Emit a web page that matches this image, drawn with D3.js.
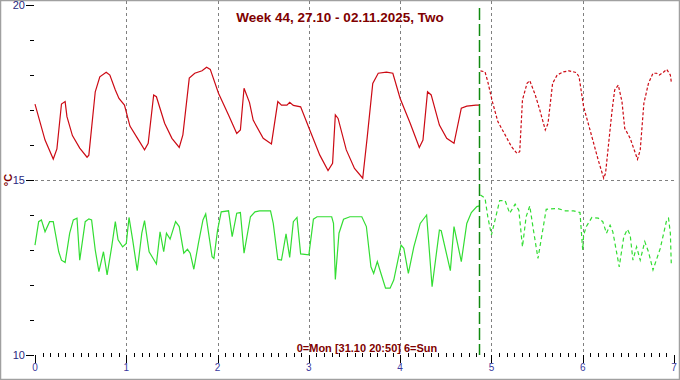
<!DOCTYPE html>
<html>
<head>
<meta charset="utf-8">
<script src="https://cdn.jsdelivr.net/npm/d3@7/dist/d3.min.js"></script>
<style>
  body { margin: 0; background: #fff; }
  svg { display: block; font-family: "Liberation Sans", Arial, sans-serif; }
</style>
</head>
<body>
<div id="chart"></div>
<script>
// weekly temperature, day 0 = Mon ... 7 = end of Sun
const titleText = "Week 44, 27.10 - 02.11.2025, Two";
const footText = "0=Mon [31.10 20:50] 6=Sun";
const unitText = "°C";
const nowDay = 4.868;
const xTicks = [0, 1, 2, 3, 4, 5, 6, 7];
const yLabels = [10, 15, 20];

// red series, measured (solid)
const redDays = [0.00, 0.11, 0.20, 0.24, 0.29, 0.33, 0.35, 0.41, 0.49, 0.57, 0.59, 0.66, 0.71, 0.78, 0.82, 0.88, 0.92, 0.98,
  1.04, 1.13, 1.20, 1.24, 1.30, 1.33, 1.42, 1.50, 1.58, 1.62, 1.69, 1.75, 1.83, 1.88, 1.92,
  2.01, 2.12, 2.21, 2.25, 2.29, 2.35, 2.39, 2.50, 2.59, 2.66, 2.70, 2.76, 2.79, 2.83, 2.91,
  3.01, 3.12, 3.21, 3.26, 3.29, 3.32, 3.41, 3.50, 3.59, 3.64, 3.70, 3.76, 3.85, 3.92,
  4.00, 4.11, 4.21, 4.25, 4.30, 4.34, 4.43, 4.51, 4.59, 4.67, 4.73, 4.83, 4.87];
const redTemps = [17.17, 16.14, 15.60, 15.89, 17.17, 17.24, 16.81, 16.27, 15.91, 15.65, 15.71, 17.52, 17.95, 18.08, 18.00, 17.57, 17.33, 17.14,
  16.54, 16.16, 15.86, 16.05, 17.43, 17.38, 16.62, 16.19, 15.93, 16.29, 17.91, 18.05, 18.12, 18.22, 18.16,
  17.48, 16.86, 16.33, 16.43, 17.62, 17.21, 16.71, 16.19, 16.03, 17.24, 17.14, 17.14, 17.22, 17.13, 17.09,
  16.43, 15.71, 15.27, 15.48, 16.86, 16.76, 15.86, 15.33, 15.05, 16.24, 17.76, 18.05, 18.08, 18.05,
  17.33, 16.62, 15.93, 16.14, 17.52, 17.43, 16.57, 16.19, 16.05, 17.05, 17.11, 17.14, 17.14];

// red series, rest of week (dashed)
const redRestDays = [4.88, 4.93, 4.96, 5.01, 5.07, 5.15, 5.22, 5.28, 5.31, 5.34, 5.39, 5.42, 5.48, 5.53, 5.59, 5.62, 5.67, 5.72, 5.79, 5.85, 5.93, 5.96,
  6.01, 6.08, 6.17, 6.23, 6.25, 6.32, 6.35, 6.39, 6.43, 6.46, 6.52, 6.60, 6.63, 6.67, 6.72, 6.77, 6.81, 6.84, 6.88, 6.92, 6.96, 6.97];
const redRestTemps = [18.12, 18.09, 17.81, 17.24, 16.67, 16.29, 15.95, 15.76, 15.81, 17.29, 17.76, 17.84, 17.43, 17.00, 16.43, 16.62, 17.76, 18.00, 18.09, 18.12, 18.07, 17.95,
  17.09, 16.43, 15.57, 15.05, 15.19, 16.95, 17.57, 17.71, 17.24, 16.48, 16.19, 15.59, 15.86, 17.19, 17.76, 18.05, 18.05, 18.00, 18.07, 18.16, 18.00, 17.81];

// green series, measured (solid)
const greenDays = [0.00, 0.04, 0.07, 0.11, 0.16, 0.20, 0.26, 0.29, 0.33, 0.38, 0.42, 0.46, 0.49, 0.55, 0.59, 0.62, 0.66, 0.70, 0.75, 0.79, 0.84, 0.88, 0.91, 0.96,
  1.00, 1.03, 1.07, 1.12, 1.17, 1.20, 1.25, 1.33, 1.37, 1.41, 1.44, 1.48, 1.54, 1.58, 1.63, 1.67, 1.70, 1.74, 1.79, 1.84, 1.87, 1.94, 1.96,
  2.00, 2.04, 2.12, 2.16, 2.21, 2.25, 2.29, 2.36, 2.41, 2.46, 2.58, 2.61, 2.66, 2.70, 2.75, 2.79, 2.83, 2.87, 2.91,
  3.00, 3.05, 3.09, 3.25, 3.27, 3.29, 3.33, 3.38, 3.45, 3.58, 3.63, 3.68, 3.71, 3.75, 3.79, 3.84, 3.89, 3.93,
  4.01, 4.04, 4.09, 4.15, 4.22, 4.29, 4.35, 4.43, 4.45, 4.55, 4.59, 4.67, 4.73, 4.78, 4.84, 4.87];
const greenTemps = [13.14, 13.81, 13.86, 13.52, 13.81, 13.81, 12.95, 12.71, 12.64, 13.48, 13.86, 13.91, 12.71, 13.81, 13.89, 13.86, 13.00, 12.38, 12.95, 12.29, 13.09, 13.81, 13.29, 13.09,
  13.19, 13.93, 13.29, 12.41, 13.48, 13.84, 12.95, 12.60, 13.52, 12.95, 13.48, 13.31, 13.81, 13.67, 12.91, 13.02, 12.91, 12.45, 13.19, 13.86, 14.03, 12.81, 12.76,
  13.57, 14.09, 14.12, 13.38, 14.05, 14.07, 12.91, 13.95, 14.09, 14.12, 14.12, 13.76, 12.73, 12.71, 13.46, 12.79, 13.81, 13.93, 12.89,
  12.86, 13.88, 13.95, 13.95, 13.76, 12.16, 13.48, 13.88, 13.95, 13.95, 13.67, 12.52, 12.33, 12.67, 12.33, 11.91, 11.91, 12.14,
  13.14, 13.05, 12.33, 13.09, 13.76, 14.00, 11.95, 13.57, 13.55, 12.41, 13.67, 12.67, 13.76, 14.07, 14.24, 14.26];

// green series, rest of week (dashed)
const greenRestDays = [4.88, 4.93, 4.96, 5.00, 5.04, 5.09, 5.15, 5.20, 5.26, 5.30, 5.34, 5.38, 5.42, 5.46, 5.51, 5.55, 5.60, 5.72, 5.81, 5.90, 5.97,
  6.00, 6.01, 6.04, 6.10, 6.17, 6.22, 6.26, 6.30, 6.33, 6.40, 6.45, 6.49, 6.52, 6.55, 6.59, 6.63, 6.68, 6.72, 6.77, 6.85, 6.92, 6.94, 6.96, 6.97];
const greenRestTemps = [14.57, 14.48, 13.95, 13.43, 13.86, 14.41, 14.41, 14.05, 14.31, 14.14, 13.09, 13.95, 14.26, 13.57, 12.76, 13.38, 14.16, 14.19, 14.12, 14.12, 14.07,
  13.00, 13.43, 13.67, 13.93, 13.91, 13.81, 13.48, 13.71, 13.52, 12.52, 13.38, 13.59, 13.43, 12.71, 13.09, 12.71, 13.24, 12.95, 12.43, 13.05, 13.86, 13.91, 13.48, 12.62];

const W = 680, H = 380;
const svg = d3.select("#chart").append("svg")
  .attr("width", W)
  .attr("height", H);

svg.append("rect")
  .attr("x", 0.5).attr("y", 0.5)
  .attr("width", W - 1).attr("height", H - 1)
  .attr("fill", "#fff")
  .attr("stroke", "#a0a0a0")
  .attr("stroke-width", 1.5);

let x = d3.scaleLinear().domain([0, 7]).range([35, 674]);
let y = d3.scaleLinear().domain([10, 20]).range([355, 5]);

// vertical grid
svg.selectAll(".vgrid")
  .data(xTicks.filter(d => d > 0 && d < 7))
  .enter().append("line")
  .attr("x1", d => Math.round(x(d)) + 0.5).attr("x2", d => Math.round(x(d)) + 0.5)
  .attr("y1", 1).attr("y2", y(10))
  .attr("stroke", "#808080")
  .attr("stroke-dasharray", "3,3");

// horizontal grid at 15
svg.append("line")
  .attr("x1", x(0)).attr("x2", x(7))
  .attr("y1", Math.round(y(15)) + 0.5).attr("y2", Math.round(y(15)) + 0.5)
  .attr("stroke", "#808080")
  .attr("stroke-dasharray", "3,3");

// y ticks
let yMinor = d3.range(10, 21, 1);
svg.selectAll(".ytick")
  .data(yMinor)
  .enter().append("line")
  .attr("x1", d => yLabels.includes(d) ? 26 : 30)
  .attr("x2", 34)
  .attr("y1", d => Math.round(y(d)) + 0.5).attr("y2", d => Math.round(y(d)) + 0.5)
  .attr("stroke", "#000");

svg.selectAll(".ylabel")
  .data(yLabels)
  .enter().append("text")
  .attr("x", 25)
  .attr("y", d => y(d) + 4)
  .attr("text-anchor", "end")
  .attr("font-size", 11)
  .attr("fill", "#2a2a80")
  .text(d => d);

svg.append("text")
  .attr("transform", "translate(12," + y(15) + ") rotate(-90)")
  .attr("text-anchor", "middle")
  .attr("font-size", 11)
  .attr("font-weight", "bold")
  .attr("fill", "#800000")
  .text(unitText);

// x ticks
let xMinor = d3.range(0, 7 * 12 + 1).map(i => i / 12);
svg.selectAll(".xtick")
  .data(xMinor)
  .enter().append("line")
  .attr("x1", d => Math.round(x(d)) + 0.5).attr("x2", d => Math.round(x(d)) + 0.5)
  .attr("y1", (d, i) => i % 12 == 0 ? 355 : 353)
  .attr("y2", (d, i) => i % 12 == 0 ? 363 : 357)
  .attr("stroke", "#000");

svg.selectAll(".xlabel")
  .data(xTicks)
  .enter().append("text")
  .attr("x", d => x(d))
  .attr("y", 371)
  .attr("text-anchor", "middle")
  .attr("font-size", 10)
  .attr("fill", "#3a3aa0")
  .text(d => d);

// series
let line = d3.line()
  .x(d => x(d[0]))
  .y(d => y(d[1]));

function drawSeries(days, temps, color, dash) {
  let pts = days.map((d, i) => [d, temps[i]]);
  svg.append("path")
    .datum(pts)
    .attr("d", line)
    .attr("fill", "none")
    .attr("stroke", color)
    .attr("stroke-width", 1.2)
    .attr("stroke-dasharray", dash);
}

drawSeries(redDays, redTemps, "#cc0a14", null);
drawSeries(redRestDays, redRestTemps, "#cc0a14", "3,2");
drawSeries(greenDays, greenTemps, "#33dd33", null);
drawSeries(greenRestDays, greenRestTemps, "#33dd33", "4,3");

// now marker
svg.append("line")
  .attr("x1", Math.round(x(nowDay)) + 0.5).attr("x2", Math.round(x(nowDay)) + 0.5)
  .attr("y1", 8).attr("y2", y(10))
  .attr("stroke", "#108a10")
  .attr("stroke-width", 1.5)
  .attr("stroke-dasharray", "12,4");

// texts
svg.append("text")
  .attr("x", 340)
  .attr("y", 22)
  .attr("text-anchor", "middle")
  .attr("font-size", 13.5)
  .attr("font-weight", "bold")
  .attr("fill", "#800000")
  .text(titleText);

svg.append("text")
  .attr("x", 367)
  .attr("y", 352)
  .attr("text-anchor", "middle")
  .attr("font-size", 11)
  .attr("font-weight", "bold")
  .attr("fill", "#800000")
  .text(footText);
</script>
</body>
</html>
